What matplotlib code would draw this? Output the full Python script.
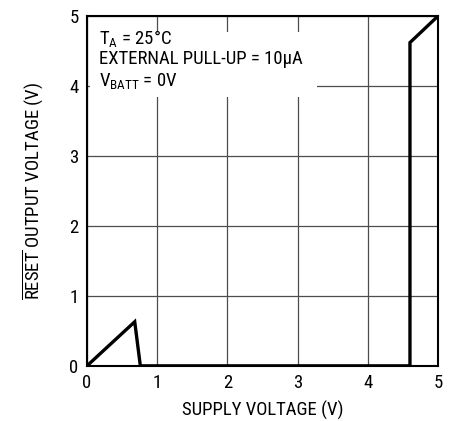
import matplotlib
matplotlib.use('Agg')
import matplotlib.pyplot as plt
from matplotlib.patches import Rectangle
from matplotlib import font_manager

names = {f.name for f in font_manager.fontManager.ttflist}
narrow = [n for n in ['Liberation Sans Narrow', 'DejaVu Sans Condensed', 'Roboto Condensed', 'Roboto'] if n in names]
fam = narrow[0] if narrow else 'DejaVu Sans'
plt.rcParams['font.family'] = [fam, 'DejaVu Sans']
plt.rcParams['mathtext.fontset'] = 'custom'
plt.rcParams['mathtext.rm'] = fam
plt.rcParams['mathtext.it'] = fam
plt.rcParams['mathtext.bf'] = fam

# RESET output vs supply voltage
supply_v = [0.0, 0.68, 0.76, 4.60, 4.60, 5.0]
reset_v = [0.0, 0.63, 0.0, 0.0, 4.62, 5.0]

ticks = [0, 1, 2, 3, 4, 5]
notes = [r'T$_\mathregular{A}$ = 25°C',
         'EXTERNAL PULL-UP = 10µA',
         r'V$_\mathregular{BATT}$ = 0V']

fs = 13.5
fig = plt.figure(figsize=(4.53, 4.21), dpi=100)
ax = fig.add_axes([0.192, 0.131, 0.775, 0.831])

ax.plot(supply_v, reset_v, color='black', lw=2.4, solid_joinstyle='miter', zorder=4)

ax.set_xlim(0, 5)
ax.set_ylim(0, 5)
ax.set_xticks(ticks)
ax.set_yticks(ticks)
ax.grid(True, color='0.3', lw=0.9, zorder=1)
ax.tick_params(length=0, labelsize=fs, pad=6)
for s in ax.spines.values():
    s.set_linewidth(1.5)

# white panel behind the notes so the grid is broken there
ax.add_patch(Rectangle((0.008, 0.768), 0.646, 0.186, transform=ax.transAxes,
                       facecolor='white', edgecolor='none', zorder=2))
for i, t in enumerate(notes):
    ax.text(0.033, 0.937 - i * 0.061, t, transform=ax.transAxes, fontsize=fs,
            va='center', ha='left', zorder=3)

ax.set_xlabel('SUPPLY VOLTAGE (V)', fontsize=fs, labelpad=6)
ax.set_ylabel(r'$\overline{\mathregular{RESET}}$ OUTPUT VOLTAGE (V)', fontsize=fs, labelpad=17)

fig.savefig('out.png', dpi=100)
